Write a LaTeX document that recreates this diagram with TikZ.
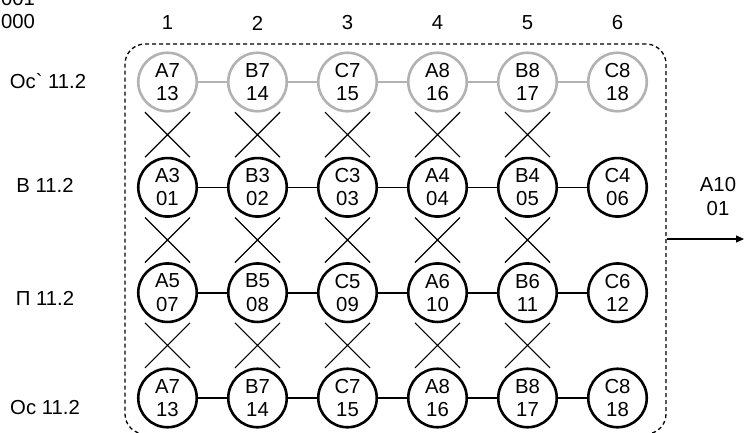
\documentclass[tikz,border=0pt]{standalone}
\usepackage{fontspec}
\setmainfont{Liberation Sans}[Ligatures=TeXOff]
\usetikzlibrary{calc,arrows.meta}
\begin{document}
\begin{tikzpicture}[x=1pt,y=-1pt,
  every node/.style={font=\fontsize{20.3}{23.3}\selectfont},
  cell/.style={circle,draw,line width=2.6pt,minimum size=58.5pt,inner sep=0pt,align=center},
  ghost/.style={cell,draw=black!30},
  link/.style={line width=1.6pt},
  ghostlink/.style={line width=1.6pt,draw=black!30},
  cross/.style={line width=1.2pt},
  frame/.style={draw,line width=1.3pt,dash pattern=on 4pt off 3pt,rounded corners=20pt,minimum width=541pt,minimum height=390pt,inner sep=0pt},
  arr/.style={line width=1.3pt,-{Triangle[length=8pt,width=7pt]}}]
\useasboundingbox (0,0) rectangle (744,432);

\node[frame] (frame) at (395.5,239) {};

\node[align=center] (corner) at (18,10) {001\\000};

\foreach \c in {1,...,6}
  \node (col\c) at ({77.5+90*\c},23) {\c};

\node (lab1) at (48,81) {Oc` 11.2};
\node (lab2) at (45,185) {B 11.2};
\node (lab3) at (45,298.5) {П 11.2};
\node (lab4) at (45,408) {Oc 11.2};

\foreach \a/\b [count=\c] in {A7/13,B7/14,C7/15,A8/16,B8/17,C8/18}
  \node[ghost] (n1\c) at ({77.5+90*\c},82) {\a\\\b};
\foreach \a/\b [count=\c] in {A3/01,B3/02,C3/03,A4/04,B4/05,C4/06}
  \node[cell] (n2\c) at ({77.5+90*\c},187.3) {\a\\\b};
\foreach \a/\b [count=\c] in {A5/07,B5/08,C5/09,A6/10,B6/11,C6/12}
  \node[cell] (n3\c) at ({77.5+90*\c},292.7) {\a\\\b};
\foreach \a/\b [count=\c] in {A7/13,B7/14,C7/15,A8/16,B8/17,C8/18}
  \node[cell] (n4\c) at ({77.5+90*\c},398) {\a\\\b};

\foreach \c [evaluate=\c as \d using int(\c+1)] in {1,...,5} {
  \draw[ghostlink] (n1\c) -- (n1\d);
  \foreach \r in {2,3,4}
    \draw[link] (n\r\c) -- (n\r\d);
}

\foreach \r [evaluate=\r as \s using int(\r+1)] in {1,2,3}
  \foreach \c [evaluate=\c as \d using int(\c+1)] in {1,...,5}
    \draw[cross] ($(n\r\c)!0.5!(n\s\d)$) +(-22.5,-22.5) -- +(22.5,22.5)
                 ($(n\r\c)!0.5!(n\s\d)$) +(22.5,-22.5) -- +(-22.5,22.5);

\coordinate (out) at (744,239);
\draw[arr] (frame.east) -- (out);
\node[align=center] (outlbl) at (718,196.5) {A10\\01};
\end{tikzpicture}
\end{document}
